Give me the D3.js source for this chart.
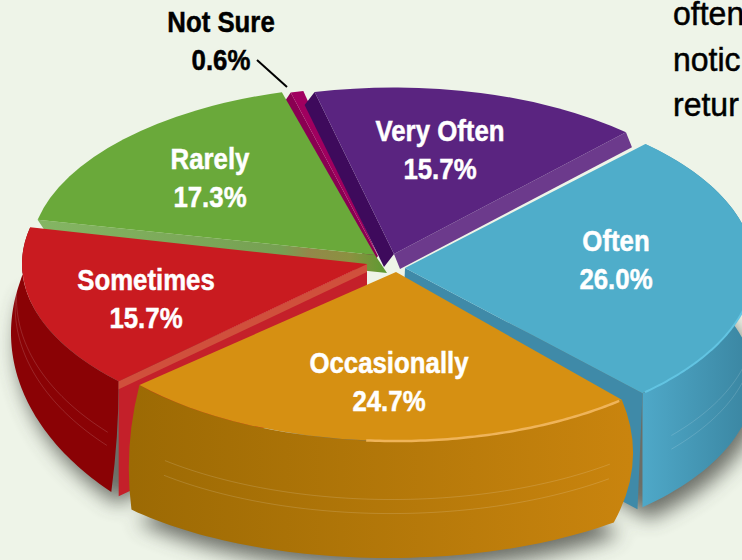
<!DOCTYPE html>
<html>
<head>
<meta charset="utf-8">
<script src="https://cdn.jsdelivr.net/npm/d3@7"></script>
<style>
html, body { margin: 0; padding: 0; background: #eef4e8; overflow: hidden; }
text { font-family: "Liberation Sans", sans-serif; font-weight: bold; }
</style>
</head>
<body>
<svg id="chart" width="742" height="560"></svg>
<script>
// データ
const categories = ['Very Often', 'Often', 'Occasionally', 'Sometimes', 'Rarely', 'Not Sure'];
const values = [15.7, 26.0, 24.7, 15.7, 17.3, 0.6];
const sideText = ['often', 'notic', 'retur'];

// 見た目（データとは別）
const topColors = ['#5a2480', '#4fadca', '#d69012', '#c91b20', '#6aa93a', '#a0005f'];
const wallColors = [['#3e0a5c', '#3e0a5c'], ['#4fa9c9', '#3c88a4'], ['#9c6a04', '#c9840e'], ['#8a0205', '#950306'], ['#557f2f', '#557f2f'], ['#7c0049', '#7c0049']];
const apexX = [394, 405, 396, 367, 375, 378];
const apexY = [254, 268, 272, 264, 255, 256];
const radii = [340, 349, 345, 345, 345, 345];
const angleShift = [-2.5, -2, 0, -2, -2.5, -1.5];
// 壁の下側の楕円（遠近感のため上面と別） [cx, cy, rx, ry]
const wallBottom = [null, [405, 382, 349, 171], [388, 412, 345, 146], [369, 333, 358, 229], null, null];
const bulgeStart = [0, 0, 26, 0, 0, 0];
const bulgeEnd = [0, 0, -16, 0, 0, 0];
// 切り口の帯 [dx, dy, 色]
const startCut = [[-10, 13, '#3e0a5c'], null, null, [0, 115, '#c4202a'], [12, 18, 'url(#rarelyCut)'], [-8, 12, '#8a0052']];
const endCut = [[6, 15, '#6c3a8c'], [-5, 116, '#3f8aa8'], null, null, null, null];
const drawOrder = [5, 4, 0, 1, 3, 2];
const labelX = [440, 616, 389, 146, 210];
const labelY = [141, 251, 373, 290, 169];

const width = 742, height = 560;
const tilt = 0.49;
const deg = Math.PI / 180;
const narrow = 0.86;

const svg = d3.select('#chart');
const defs = svg.append('defs');

const blur = defs.append('filter').attr('id', 'blur')
    .attr('x', '-20%').attr('y', '-20%').attr('width', '140%').attr('height', '140%');
blur.append('feGaussianBlur').attr('stdDeviation', 10);

wallColors.forEach((c, i) => {
    const g = defs.append('linearGradient').attr('id', `wall${i}`)
        .attr('gradientUnits', 'userSpaceOnUse')
        .attr('x1', i === 1 ? 640 : 130).attr('x2', i === 1 ? 742 : 630).attr('y1', 0).attr('y2', 0);
    g.append('stop').attr('offset', 0).attr('stop-color', c[0]);
    g.append('stop').attr('offset', 1).attr('stop-color', c[1]);
});

const rarelyCut = defs.append('linearGradient').attr('id', 'rarelyCut')
    .attr('gradientUnits', 'userSpaceOnUse').attr('x1', 40).attr('x2', 385).attr('y1', 0).attr('y2', 0);
[[0, '#84b563'], [0.7, '#76a052'], [0.78, '#93884a'], [0.9, '#8b9140'], [1, '#5e9a32']].forEach(d => {
    rarelyCut.append('stop').attr('offset', d[0]).attr('stop-color', d[1]);
});

const pie = d3.pie().sort(null).startAngle(-11 * deg).endAngle(349 * deg);
const slices = pie(values).map((s, i) => ({
    startAngle: s.startAngle + angleShift[i] * deg,
    endAngle: s.endAngle + angleShift[i] * deg
}));

const arc = d3.arc().innerRadius(0);
const line = d3.line();

function rim(i, a) {
    return [apexX[i] + radii[i] * Math.sin(a), apexY[i] - tilt * radii[i] * Math.cos(a)];
}

function base(i, a) {
    const b = wallBottom[i];
    return [b[0] + b[2] * Math.sin(a), b[1] - b[3] * Math.cos(a)];
}

function sweep(a0, a1, n = 60) {
    return d3.range(n + 1).map(k => a0 + (a1 - a0) * k / n);
}

// 影
const shadow = svg.append('g').attr('filter', 'url(#blur)').attr('fill', '#4b4e46').attr('opacity', 0.8);
[1, 2, 3].forEach(i => {
    const s = slices[i];
    shadow.append('path')
        .attr('d', line(sweep(s.startAngle, s.endAngle).map(a => {
            const q = base(i, a);
            return [q[0] + 6, q[1] + 12];
        }).concat([[apexX[i], apexY[i] + 100]])));
});

const chart = svg.append('g');

drawOrder.forEach(i => {
    const s = slices[i];
    const g = chart.append('g');

    // 外周の壁
    if (wallBottom[i]) {
        const a0 = s.startAngle, a1 = s.endAngle;
        const top = sweep(a0, a1).map(a => rim(i, a));
        const bottom = sweep(a1, a0).map(a => base(i, a));
        const tEnd = top[top.length - 1], bEnd = bottom[bottom.length - 1];
        const p = d3.path();
        p.moveTo(top[0][0], top[0][1]);
        top.slice(1).forEach(q => p.lineTo(q[0], q[1]));
        p.quadraticCurveTo(tEnd[0] + bulgeEnd[i], (tEnd[1] + bottom[0][1]) / 2, bottom[0][0], bottom[0][1]);
        bottom.slice(1).forEach(q => p.lineTo(q[0], q[1]));
        p.quadraticCurveTo(top[0][0] + bulgeStart[i], (top[0][1] + bEnd[1]) / 2, top[0][0], top[0][1]);
        g.append('path').attr('d', p.toString()).attr('fill', `url(#wall${i})`);

        // 壁の細い線
        [0.5, 0.62].forEach(f => {
            g.append('path')
                .attr('d', line(sweep(a0 + 0.03, a1 - 0.12).map(a => {
                    const t = rim(i, a), b = base(i, a);
                    return [t[0] + (b[0] - t[0]) * f, t[1] + (b[1] - t[1]) * f];
                })))
                .attr('fill', 'none').attr('stroke', '#ffffff').attr('stroke-opacity', 0.18).attr('stroke-width', 0.8);
        });
    }

    // 切り口
    [[startCut[i], s.startAngle], [endCut[i], s.endAngle]].forEach(([cut, a]) => {
        if (!cut) return;
        const r = rim(i, a);
        g.append('path')
            .attr('d', line([[apexX[i], apexY[i]], r, [r[0] + cut[0], r[1] + cut[1]], [apexX[i] + cut[0], apexY[i] + cut[1]]]) + 'Z')
            .attr('fill', cut[2]);
    });

    // Sometimes の切り口の上の明るい帯
    if (i === 3) {
        const r = rim(i, s.startAngle);
        g.append('path')
            .attr('d', line([[apexX[i], apexY[i]], r, [r[0], r[1] + 8], [apexX[i], apexY[i] + 8]]) + 'Z')
            .attr('fill', '#d0503c');
    }

    // 上面
    g.append('path')
        .attr('transform', `translate(${apexX[i]},${apexY[i]}) scale(1,${tilt})`)
        .attr('d', arc({ startAngle: s.startAngle, endAngle: s.endAngle, outerRadius: radii[i] }))
        .attr('fill', topColors[i]);

    // 縁のハイライト
    if (i === 2) {
        g.append('path')
            .attr('d', line(sweep(s.startAngle + 0.01, s.startAngle + 0.8).map(a => rim(i, a))))
            .attr('fill', 'none').attr('stroke', '#efb45a').attr('stroke-width', 2.5);
    }
    if (i === 1) {
        g.append('path')
            .attr('d', line(sweep(s.endAngle - 0.01, s.endAngle - 0.6).map(a => rim(i, a))))
            .attr('fill', 'none').attr('stroke', '#62c4e2').attr('stroke-width', 2);
    }
});

function twoLines(x, y, fill, a, b) {
    const t = svg.append('text').attr('fill', fill).attr('font-size', 30).attr('text-anchor', 'middle')
        .attr('stroke', fill).attr('stroke-width', 0.5)
        .attr('transform', `translate(${x},${y}) scale(${narrow},1)`);
    t.append('tspan').attr('x', 0).attr('y', 0).text(a);
    t.append('tspan').attr('x', 0).attr('y', 38).text(b);
}

// ラベル
categories.slice(0, 5).forEach((c, i) => {
    twoLines(labelX[i], labelY[i], '#fff', c, values[i].toFixed(1) + '%');
});

// Not Sure
twoLines(221, 32, '#000', categories[5], values[5].toFixed(1) + '%');
svg.append('line').attr('x1', 257).attr('y1', 60).attr('x2', 287).attr('y2', 87)
    .attr('stroke', '#000').attr('stroke-width', 2);

// 右上の本文（元図でも切れている）
sideText.forEach((t, i) => {
    svg.append('text').attr('transform', `translate(673,${25 + i * 45.5}) scale(0.97,1)`)
        .attr('font-size', 33).attr('fill', '#000')
        .attr('stroke', '#000').attr('stroke-width', 0.5)
        .style('font-weight', 'normal').text(t);
});
</script>
</body>
</html>
